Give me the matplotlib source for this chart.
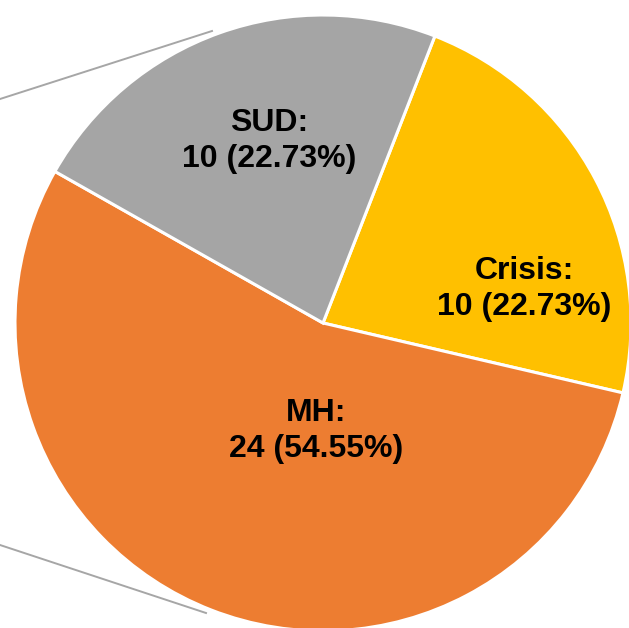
import matplotlib.pyplot as plt

# data
labels = ["Crisis", "MH", "SUD"]
counts = [10, 24, 10]
colors = ["#FFC000", "#ED7D31", "#A5A5A5"]

plt.rcParams["font.family"] = ["Liberation Sans", "DejaVu Sans"]

fig = plt.figure(figsize=(6.29, 6.28), dpi=100)
ax = fig.add_axes([0, 0, 1, 1])
ax.set_xlim(0, 629)
ax.set_ylim(0, 628)
ax.set_aspect("equal")
ax.axis("off")

cx, cy, r = 323, 305, 308

# connector lines of the pie-of-pie (only the tails show)
ax.plot([0, 212], [529, 597], color="#A6A6A6", lw=1.4, zorder=0)
ax.plot([0, 206], [83, 15], color="#A6A6A6", lw=1.4, zorder=0)

ax.pie(counts, colors=colors, startangle=68.7, counterclock=False,
       center=(cx, cy), radius=r, frame=True,
       wedgeprops=dict(edgecolor="white", linewidth=2.2))
ax.set_xlim(0, 629)
ax.set_ylim(0, 628)
ax.axis("off")

total = sum(counts)
# label centres as offsets from the pie centre (pixels)
offsets = [(201, 34), (-7, -108), (-54, 182)]
for lab, n, (dx, dy) in zip(labels, counts, offsets):
    ax.text(cx + dx, cy + dy, f"{lab}:\n{n} ({n / total * 100:.2f}%)",
            ha="center", va="center", fontsize=23, fontweight="bold",
            linespacing=1.25, color="black")

fig.savefig("out.png", dpi=100)
